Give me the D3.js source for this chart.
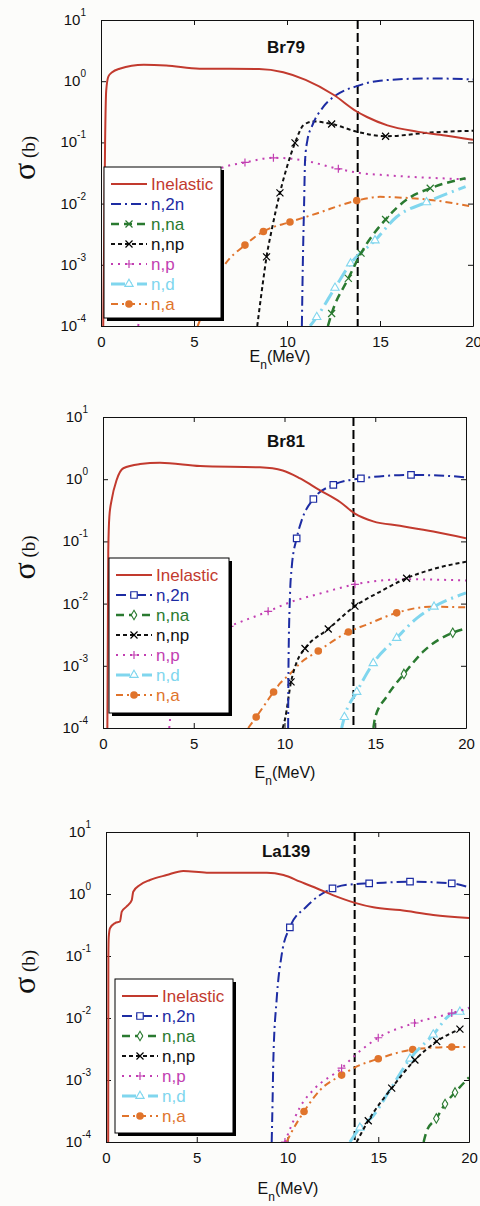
<!DOCTYPE html>
<html>
<head>
<meta charset="utf-8">
<script src="https://cdn.jsdelivr.net/npm/d3@7"></script>
<style>
body { margin: 0; background: #fcfcfa; }
svg { display: block; font-family: Arial, "Liberation Sans", sans-serif; }
</style>
</head>
<body>
<svg id="chart" width="480" height="1206"></svg>
<script>
// ---- data: [E (MeV), sigma (b)] ----
const seriesNames = ["Inelastic", "n,2n", "n,na", "n,np", "n,p", "n,d", "n,a"];
const titles = ["Br79", "Br81", "La139"];
const refEnergy = [13.8, 13.8, 13.7];
const xTicks = [0, 5, 10, 15, 20];
const yExponents = [1, 0, -1, -2, -3, -4];

// Br79
const br79Inelastic = [[0.12,1e-4],[0.17,0.003],[0.22,0.1],[0.28,0.7],[0.4,1.2],[0.6,1.4],[1.0,1.6],[2.3,1.85],[3.5,1.8],[5.3,1.6],[8.5,1.58],[9.8,1.4],[11.0,1.05],[12.5,0.6],[13.75,0.32],[14.3,0.26],[15.4,0.19],[17.0,0.15],[18.5,0.13],[20,0.11]];
const br79N2n = [[10.8,1e-4],[10.85,1e-3],[10.92,0.01],[10.97,0.05],[11.1,0.11],[11.33,0.18],[11.95,0.38],[12.67,0.6],[13.75,0.83],[15,1.02],[17.7,1.11],[20,1.07]];
const br79Nna = [[12.2,1e-4],[12.4,1.6e-4],[13.3,6e-4],[13.98,1.55e-3],[15.3,5.5e-3],[16.5,0.012],[17.7,0.0178],[19.6,0.026]];
const br79Nnp = [[8.4,1e-4],[8.7,5e-4],[8.9,1.35e-3],[9.2,4e-3],[9.62,0.015],[10.0,0.04],[10.43,0.098],[10.88,0.19],[11.4,0.22],[12.4,0.2],[13.75,0.15],[15.3,0.126],[17.7,0.145],[20,0.155]];
const br79Np = [[2.0,1e-4],[3.0,3e-3],[4.5,0.015],[6.45,0.038],[7.74,0.047],[9.27,0.056],[10.7,0.052],[12.76,0.037],[13.8,0.032],[15.4,0.029],[17.0,0.027],[19.7,0.025]];
const br79Nd = [[11.24,1e-4],[11.6,1.4e-4],[12.58,4.2e-4],[13.42,1.05e-3],[14.73,2.5e-3],[15.9,6.1e-3],[17.5,0.0105],[19.6,0.019]];
const br79Na = [[5.2,1e-4],[6.0,4e-4],[6.49,8.3e-4],[7.74,2.1e-3],[8.73,3.5e-3],[10.16,5e-3],[11.6,6.9e-3],[13.75,0.0112],[15,0.0129],[16.2,0.0125],[17.7,0.0115],[20,0.0089]];

// Br81
const br81Inelastic = [[0.24,1e-4],[0.27,0.005],[0.29,0.07],[0.35,0.25],[0.48,0.47],[0.75,0.97],[1.12,1.5],[2.04,1.75],[3.14,1.84],[5.35,1.63],[8.65,1.55],[9.9,1.38],[10.86,1.03],[11.96,0.66],[13.06,0.43],[13.88,0.28],[14.89,0.21],[16.36,0.178],[18.2,0.144],[20,0.112]];
const br81N2n = [[10.2,1e-4],[10.22,1e-3],[10.3,0.013],[10.4,0.039],[10.67,0.112],[10.95,0.22],[11.59,0.48],[12.69,0.81],[14.21,1.03],[16.97,1.17],[18.5,1.15],[20,1.07]];
const br81Nna = [[14.9,1e-4],[14.99,1.45e-4],[15.63,3.2e-4],[16.58,7.4e-4],[17.65,1.7e-3],[19.27,3.4e-3],[20,4e-3]];
const br81Nnp = [[9.9,1e-4],[10.03,1.4e-4],[10.36,5.5e-4],[10.7,1.2e-3],[11.13,1.9e-3],[12.41,3.9e-3],[13.88,9.1e-3],[15.26,0.0155],[16.73,0.0256],[18.2,0.036],[20,0.047]];
const br81Np = [[3.65,1e-4],[3.75,2e-4],[4.2,8e-4],[5.0,2e-3],[6.0,3.2e-3],[6.97,4.3e-3],[9.1,7.5e-3],[10.3,0.0105],[11.96,0.0145],[13.88,0.0204],[16.73,0.0246],[20,0.0235]];
const br81Nd = [[13.15,1e-4],[13.3,1.5e-4],[13.98,3.8e-4],[14.89,1.1e-3],[16.18,2.8e-3],[17.28,5.8e-3],[18.24,8.9e-3],[20,0.0148]];
const br81Na = [[8.0,1e-4],[8.44,1.5e-4],[9.4,3.8e-4],[9.75,5.2e-4],[10.3,7.4e-4],[10.86,1.1e-3],[11.86,1.73e-3],[13.52,3.5e-3],[14.53,4.6e-3],[16.18,7.1e-3],[18.0,8.9e-3],[20,8.7e-3]];

// La139
const la139Inelastic = [[0.12,1e-4],[0.13,0.1],[0.15,0.2],[0.22,0.28],[0.5,0.34],[0.77,0.36],[0.87,0.52],[1.14,0.63],[1.42,0.8],[1.5,1.09],[1.87,1.4],[2.42,1.68],[3.34,2.02],[4.26,2.35],[5.55,2.21],[8.86,2.21],[9.78,2.02],[10.7,1.58],[11.6,1.24],[12.5,0.96],[13.72,0.72],[14.73,0.61],[16.2,0.55],[18.03,0.46],[20,0.41]];
const la139N2n = [[9.13,1e-4],[9.18,5e-4],[9.22,2.1e-3],[9.4,0.0195],[9.68,0.105],[10.13,0.29],[11.05,0.63],[12.48,1.23],[13.72,1.45],[14.5,1.48],[16.75,1.58],[19.05,1.48],[20,1.28]];
const la139Nna = [[17.5,1e-4],[17.67,1.5e-4],[18.2,2.4e-4],[18.68,4.1e-4],[19.23,6.3e-4],[20,1.1e-3]];
const la139Nnp = [[13.81,1e-4],[14.45,2.2e-4],[15.74,7.4e-4],[17.02,2.1e-3],[18.22,4.2e-3],[19.5,6.6e-3]];
const la139Np = [[9.86,1e-4],[10.13,1.6e-4],[10.7,3.7e-4],[11.42,6.9e-4],[12.98,1.55e-3],[13.72,2.5e-3],[15.0,4.8e-3],[17.0,8.3e-3],[19.05,0.012],[20,0.0145]];
const la139Nd = [[13.44,1e-4],[13.99,1.7e-4],[14.7,2.6e-4],[15.64,6.9e-4],[16.75,2.2e-3],[18.03,5.4e-3],[18.95,0.0112],[19.5,0.0126],[20,0.0145]];
const la139Na = [[9.95,1e-4],[10.2,1.4e-4],[10.91,3.1e-4],[11.8,6.9e-4],[12.98,1.2e-3],[13.72,1.6e-3],[15.0,2.2e-3],[16.9,3.1e-3],[19.05,3.4e-3],[20,3.4e-3]];

// ---- styles ----
const styles = {
    "Inelastic": {color: "#c23a2e", dash: null, width: 2},
    "n,2n": {color: "#1d2ca3", dash: "10,4,2,4", width: 2},
    "n,na": {color: "#2a7a30", dash: "8,5", width: 2.5},
    "n,np": {color: "#111111", dash: "4,3", width: 2},
    "n,p": {color: "#c23fb2", dash: "2,5", width: 2},
    "n,d": {color: "#80d6ee", dash: "14,5,2,5", width: 3},
    "n,a": {color: "#e0742c", dash: "7,4,2,4", width: 2}
};

const panels = [
    {
        box: {l: 101, r: 473, t: 20, b: 326},
        legend: {x: 104, y: 167, w: 117, h: 151},
        titleDy: 33, xlabX: 280, xlabDy: 36,
        series: [
            {data: br79Inelastic, marker: null, marks: []},
            {data: br79N2n, marker: null, marks: []},
            {data: br79Nna, marker: "x", marks: [1, 2, 3, 4, 6]},
            {data: br79Nnp, marker: "x", marks: [2, 4, 6, 9, 11]},
            {data: br79Np, marker: "plus", marks: [4, 5, 7]},
            {data: br79Nd, marker: "tri", marks: [1, 2, 3, 4, 6]},
            {data: br79Na, marker: "dot", marks: [3, 4, 5, 7]}
        ]
    },
    {
        box: {l: 103, r: 466, t: 417, b: 728},
        legend: {x: 109, y: 558, w: 120, h: 155},
        titleDy: 30, xlabX: 285, xlabDy: 50,
        series: [
            {data: br81Inelastic, marker: null, marks: []},
            {data: br81N2n, marker: "square", marks: [4, 6, 7, 8, 9]},
            {data: br81Nna, marker: "diamond", marks: [3, 5]},
            {data: br81Nnp, marker: "x", marks: [2, 4, 5, 6, 8]},
            {data: br81Np, marker: "plus", marks: [5, 6, 9]},
            {data: br81Nd, marker: "tri", marks: [1, 2, 3, 4, 6]},
            {data: br81Na, marker: "dot", marks: [1, 2, 6, 7, 9]}
        ]
    },
    {
        box: {l: 106, r: 469, t: 832, b: 1142},
        legend: {x: 115, y: 979, w: 118, h: 154},
        titleDy: 25, xlabX: 288, xlabDy: 52,
        series: [
            {data: la139Inelastic, marker: null, marks: []},
            {data: la139N2n, marker: "square", marks: [5, 7, 9, 10, 11]},
            {data: la139Nna, marker: "diamond", marks: [2, 3, 4]},
            {data: la139Nnp, marker: "x", marks: [1, 2, 3, 4, 5]},
            {data: la139Np, marker: "plus", marks: [0, 4, 6, 7, 8]},
            {data: la139Nd, marker: "tri", marks: [1, 4, 5, 7]},
            {data: la139Na, marker: "dot", marks: [2, 4, 6, 7, 8]}
        ]
    }
];

const svg = d3.select("#chart");

function drawMarker(sel, type, color) {
    if (type === "x") {
        sel.append("path").attr("d", "M-3.5,-3.5L3.5,3.5M-3.5,3.5L3.5,-3.5")
            .attr("stroke", color).attr("stroke-width", 1.2).attr("fill", "none");
    } else if (type === "plus") {
        sel.append("path").attr("d", "M-4,0H4M0,-4V4")
            .attr("stroke", color).attr("stroke-width", 1.2).attr("fill", "none");
    } else if (type === "square") {
        sel.append("path").attr("d", d3.symbol(d3.symbolSquare, 42)())
            .attr("stroke", color).attr("stroke-width", 1.2).attr("fill", "#fff");
    } else if (type === "diamond") {
        sel.append("path").attr("d", d3.symbol(d3.symbolDiamond, 26)())
            .attr("stroke", color).attr("stroke-width", 1.1).attr("fill", "#fff");
    } else if (type === "tri") {
        sel.append("path").attr("d", d3.symbol(d3.symbolTriangle, 30)())
            .attr("stroke", color).attr("stroke-width", 1.1).attr("fill", "#fff");
    } else if (type === "dot") {
        sel.append("circle").attr("r", 3.8).attr("fill", color);
    }
}

panels.forEach((p, pi) => {
    let b = p.box;
    let g = svg.append("g");

    let x = d3.scaleLinear().domain([0, 20]).range([b.l, b.r]);
    let y = d3.scaleLog().domain([1e-4, 10]).range([b.b, b.t]);

    let clipId = "clip" + pi;
    g.append("clipPath").attr("id", clipId)
        .append("rect").attr("x", b.l).attr("y", b.t).attr("width", b.r - b.l).attr("height", b.b - b.t);

    // axes box with inward ticks on all four sides
    g.append("g").attr("transform", "translate(0," + b.b + ")")
        .call(d3.axisBottom(x).tickValues(xTicks).tickSizeInner(-5).tickSizeOuter(0).tickPadding(10))
        .call(a => a.selectAll("text").attr("font-size", 15).attr("font-family", "Arial, 'Liberation Sans', sans-serif").attr("fill", "#111"));
    g.append("g").attr("transform", "translate(0," + b.t + ")")
        .call(d3.axisTop(x).tickValues(xTicks).tickSizeInner(-5).tickSizeOuter(0).tickFormat(""));
    g.append("g").attr("transform", "translate(" + b.l + ",0)")
        .call(d3.axisLeft(y).tickValues(yExponents.map(e => Math.pow(10, e))).tickSizeInner(-5).tickSizeOuter(0).tickFormat(""));
    g.append("g").attr("transform", "translate(" + b.r + ",0)")
        .call(d3.axisRight(y).tickValues(yExponents.map(e => Math.pow(10, e))).tickSizeInner(-5).tickSizeOuter(0).tickFormat(""));
    g.selectAll(".domain, .tick line").attr("stroke", "#111");

    // y tick labels 10^n
    yExponents.forEach(e => {
        let t = g.append("text")
            .attr("x", b.l - 15).attr("y", y(Math.pow(10, e)) + 5)
            .attr("text-anchor", "end").attr("font-size", 15).attr("fill", "#111");
        t.append("tspan").text("10");
        t.append("tspan").attr("dy", -9).attr("font-size", 10).text(e < 0 ? "-" + (-e) : String(e));
    });

    // curves
    let line = d3.line()
        .x(d => x(d[0]))
        .y(d => y(d[1]))
        .curve(d3.curveMonotoneX);

    let plot = g.append("g").attr("clip-path", "url(#" + clipId + ")");

    // reference energy line
    plot.append("line")
        .attr("x1", x(refEnergy[pi])).attr("x2", x(refEnergy[pi]))
        .attr("y1", b.t).attr("y2", b.b)
        .attr("stroke", "#000").attr("stroke-width", 2).attr("stroke-dasharray", "9,4");

    // draw in reverse so Inelastic ends on top
    p.series.slice().reverse().forEach((s, ri) => {
        let name = seriesNames[p.series.length - 1 - ri];
        let st = styles[name];
        plot.append("path")
            .datum(s.data)
            .attr("fill", "none")
            .attr("stroke", st.color)
            .attr("stroke-width", st.width)
            .attr("stroke-dasharray", st.dash)
            .attr("d", line);
        if (s.marker) {
            s.marks.forEach(i => {
                let d = s.data[i];
                let m = plot.append("g").attr("transform", "translate(" + x(d[0]) + "," + y(d[1]) + ")");
                drawMarker(m, s.marker, name === "n,np" ? "#000" : st.color);
            });
        }
    });

    // title
    g.append("text")
        .attr("x", 286).attr("y", b.t + p.titleDy)
        .attr("text-anchor", "middle").attr("font-size", 17).attr("font-weight", "bold").attr("fill", "#111")
        .text(titles[pi]);

    // x label
    let xl = g.append("text")
        .attr("x", p.xlabX).attr("y", b.b + p.xlabDy)
        .attr("text-anchor", "middle").attr("font-size", 16).attr("fill", "#111");
    xl.append("tspan").text("E");
    xl.append("tspan").attr("dy", 7).attr("font-size", 12).text("n");
    xl.append("tspan").attr("dy", -7).text("(MeV)");

    // y label
    let cy = (b.t + b.b) / 2 - 15;
    let yl = g.append("text")
        .attr("transform", "translate(35," + cy + ") rotate(-90)")
        .attr("text-anchor", "middle").attr("font-family", "'Liberation Serif', serif").attr("fill", "#111");
    yl.append("tspan").attr("font-size", 32).text("σ");
    yl.append("tspan").attr("font-size", 19).text(" (b)");

    // legend
    let L = p.legend;
    let lg = g.append("g").attr("transform", "translate(" + L.x + "," + L.y + ")");
    lg.append("rect").attr("x", 3).attr("y", 3).attr("width", L.w).attr("height", L.h).attr("fill", "#000");
    lg.append("rect").attr("width", L.w).attr("height", L.h).attr("fill", "#fff").attr("stroke", "#000").attr("stroke-width", 1);
    seriesNames.forEach((name, i) => {
        let st = styles[name];
        let s = p.series[i];
        let ly = 17 + i * 20;
        lg.append("line")
            .attr("x1", 7).attr("x2", 43).attr("y1", ly).attr("y2", ly)
            .attr("stroke", st.color).attr("stroke-width", st.width)
            .attr("stroke-dasharray", st.dash);
        if (s.marker) {
            drawMarker(lg.append("g").attr("transform", "translate(25," + ly + ")"), s.marker, name === "n,np" ? "#000" : st.color);
        }
        lg.append("text")
            .attr("x", 47).attr("y", ly + 6)
            .attr("font-size", 17).attr("fill", st.color)
            .text(name);
    });
});
</script>
</body>
</html>
